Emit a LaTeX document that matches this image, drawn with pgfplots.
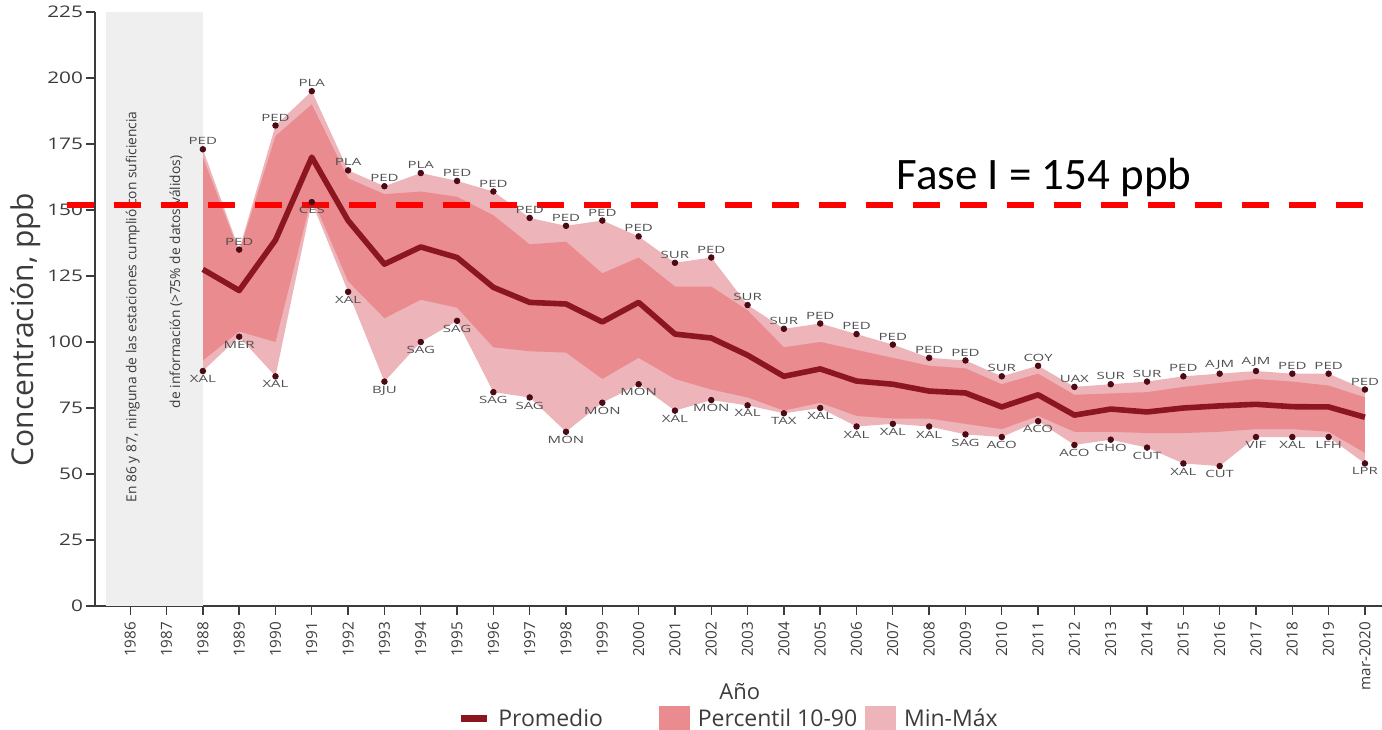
\documentclass[border=0pt]{standalone}
\usepackage{fontspec}
\setmainfont{Open Sans}
\newfontfamily\stfont{Open Sans}[FakeStretch=1.5]
\newfontfamily\ytfont{Open Sans}[FakeStretch=1.3]
\newfontfamily\calib{Carlito}
\usepackage{pgfplots}
\usepackage{pgfplotstable}
\pgfplotsset{compat=1.18}
\usepgfplotslibrary{fillbetween}
\definecolor{prom}{RGB}{140,22,32}
\definecolor{pband}{RGB}{233,139,143}
\definecolor{mband}{RGB}{237,180,185}
\definecolor{grayreg}{RGB}{239,239,239}
\definecolor{dotc}{RGB}{75,10,20}
\definecolor{labc}{RGB}{80,80,80}
\definecolor{axc}{RGB}{60,60,60}

\pgfplotstableread{
year mean  p10  p90  mn  mx  mnlab mxlab
1988 127.5 93   170  89  173 XAL PED
1989 119.5 104  134  102 135 MER PED
1990 138.6 100  178  87  182 XAL PED
1991 170   155  190  153 195 CES PLA
1992 146   123  162  119 165 XAL PLA
1993 129.5 109  156  85  159 BJU PED
1994 136   116  157  100 164 SAG PLA
1995 132   113  155  108 161 SAG PED
1996 120.7 98   148  81  157 SAG PED
1997 115   96.5 137  79  147 SAG PED
1998 114.4 96   138  66  144 MON PED
1999 107.6 86   126  77  146 MON PED
2000 115   94   132  84  140 MON PED
2001 103   86   121  74  130 XAL SUR
2002 101.5 82   121  78  132 MON PED
2003 95    79   112  76  114 XAL SUR
2004 87    74   98   73  105 TAX SUR
2005 89.8  77   100  75  107 XAL PED
2006 85.2  72   97   68  103 XAL PED
2007 84    71   94   69  99  XAL PED
2008 81.4  71   91   68  94  XAL PED
2009 80.7  69   90   65  93  SAG PED
2010 75.4  67   84   64  87  ACO SUR
2011 80    72   88   70  91  ACO COY
2012 72.3  66   80   61  83  ACO UAX
2013 74.6  66   80.5 63  84  CHO SUR
2014 73.5  65.5 81   60  85  CUT SUR
2015 75    65.5 83   54  87  XAL PED
2016 75.8  66   84.5 53  88  CUT AJM
2017 76.4  67   86   64  89  VIF AJM
2018 75.5  67   85   64  88  XAL PED
2019 75.4  66   83.5 64  88  LFH PED
2020 71.5  58   79   54  82  LPR PED
}\data

\begin{document}
\begin{tikzpicture}
\begin{axis}[
  scale only axis,
  width=643.5pt, height=297pt,
  xmin=1985.03, xmax=2020.47,
  ymin=0, ymax=225,
  clip=false,
  axis lines*=left,
  axis line style={line width=1pt, axc},
  tick align=outside,
  major tick length=4.5pt,
  tick style={axc, line width=0.7pt},
  ytick={0,25,...,225},
  xtick={1986,1987,...,2020},
  xticklabels={1986,1987,1988,1989,1990,1991,1992,1993,1994,1995,1996,1997,1998,1999,2000,2001,2002,2003,2004,2005,2006,2007,2008,2009,2010,2011,2012,2013,2014,2015,2016,2017,2018,2019,mar-2020},
  /pgf/number format/assume math mode=true,
  yticklabel style={font=\ytfont\fontsize{8}{9}\selectfont, text=axc, xshift=2pt},
  xticklabel style={rotate=90, anchor=east, font=\fontsize{7.6}{8}\selectfont, text=axc},
  ylabel={Concentración, ppb},
  ylabel style={at={(axis description cs:0,0.465)}, anchor=center, yshift=34.5pt, font=\fontsize{15}{17}\selectfont, text=axc},
  xlabel={Año},
  xlabel style={at={(axis description cs:0.501,0)}, anchor=center, yshift=-43pt, font=\fontsize{11}{13}\selectfont, text=axc},
  legend columns=3,
  legend style={at={(axis description cs:0.493,-0.190)}, anchor=center, draw=none, fill=none, font=\fontsize{11.5}{13}\selectfont, text=axc,
    /tikz/every odd column/.append style={column sep=2pt},
    /tikz/column 2/.style={column sep=26pt},
    /tikz/column 4/.style={column sep=2pt}},
]
\coordinate (sw) at (rel axis cs:0,0);
\coordinate (ne) at (rel axis cs:1,1);
\addplot[fill=grayreg, draw=none, forget plot] coordinates {(1985.33,0) (1988,0) (1988,225) (1985.33,225)} -- cycle;
\node[rotate=90, font=\fontsize{6.9}{8}\selectfont, text=axc] at (axis cs:1986.07,113.3) {En 86 y 87, ninguna de las estaciones cumplió con suficiencia};
\node[rotate=90, font=\fontsize{6.9}{8}\selectfont, text=axc] at (axis cs:1987.26,122.7) {de información (>75\% de datos válidos)};

\addplot[draw=none, name path=mx, forget plot] table[x=year,y=mx]{\data};
\addplot[draw=none, name path=mn, forget plot] table[x=year,y=mn]{\data};
\addplot[mband, draw=none, forget plot] fill between[of=mx and mn];
\addplot[draw=none, name path=pa, forget plot] table[x=year,y=p90]{\data};
\addplot[draw=none, name path=pb, forget plot] table[x=year,y=p10]{\data};
\addplot[pband, draw=none, forget plot] fill between[of=pa and pb];
\addplot[prom, line width=2.8pt, line join=round, forget plot] table[x=year,y=mean]{\data};

\addplot[only marks, mark=*, mark size=1.4pt, dotc, forget plot,
  nodes near coords, point meta=explicit symbolic,
  nodes near coords style={anchor=south, font=\stfont\fontsize{5}{6}\selectfont, text=labc, inner sep=2pt}]
  table[x=year, y=mx, meta=mxlab]{\data};
\addplot[only marks, mark=*, mark size=1.4pt, dotc, forget plot,
  nodes near coords, point meta=explicit symbolic,
  nodes near coords style={anchor=north, font=\stfont\fontsize{5}{6}\selectfont, text=labc, inner sep=2pt}]
  table[x=year, y=mn, meta=mnlab]{\data};

\addplot[red, line width=3pt, dash pattern=on 13.5pt off 10pt, forget plot] coordinates {(1984.25,152) (2020.2,152)};
\node[anchor=base west, font=\calib\fontsize{22.5}{24}\selectfont, inner sep=0pt] at (axis cs:2007.09,157.95) {Fase I = 154 ppb};

\addlegendimage{legend image code/.code={\draw[prom, line width=3.5pt] (0pt,0pt) -- (13pt,0pt);}}
\addlegendentry{Promedio}
\addlegendimage{legend image code/.code={\fill[pband] (0pt,-6pt) rectangle (15pt,6pt);}}
\addlegendentry{Percentil 10-90}
\addlegendimage{legend image code/.code={\fill[mband] (0pt,-6pt) rectangle (15pt,6pt);}}
\addlegendentry{Min-Máx}
\end{axis}
\pgfresetboundingbox
\path[use as bounding box] ([shift={(-47.5pt,-61.5pt)}]sw) rectangle ([shift={(0pt,6pt)}]ne);
\end{tikzpicture}
\end{document}
